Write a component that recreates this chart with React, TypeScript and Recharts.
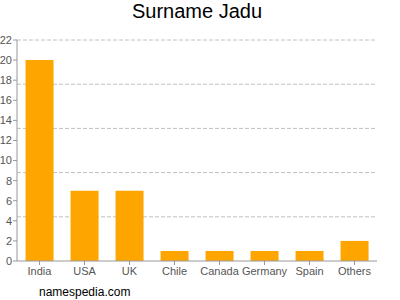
import React from 'react';
import { BarChart, Bar, XAxis, YAxis, CartesianGrid } from 'recharts';

const countries = ['India', 'USA', 'UK', 'Chile', 'Canada', 'Germany', 'Spain', 'Others'];
const counts = [20, 7, 7, 1, 1, 1, 1, 2];
const yTicks = [0, 2, 4, 6, 8, 10, 12, 14, 16, 18, 20, 22];
const yMax = 22;
const gridValues = [4.4, 8.8, 13.2, 17.6, 22];

const data = countries.map((name, i) => ({ name, value: counts[i] }));

const font = '"Liberation Sans", Arial, sans-serif';

// grid lines sit at fifths of the axis range, not at the tick values
const gridCoords = ({ yAxis, offset }: any) => {
    const s = yAxis && yAxis.scale;
    if (typeof s === 'function') return gridValues.map((v) => s(v));
    if (s && typeof s.map === 'function') return gridValues.map((v) => s.map(v));
    return gridValues.map((v) => offset.top + offset.height * (1 - v / yMax));
};

const App = () => {
    return (
        <div style={{ position: 'absolute', left: 0, top: 0, width: 400, height: 300, fontFamily: font }}>
            <div style={{ position: 'absolute', top: 0, left: 0, width: 394, textAlign: 'center', fontSize: 20, color: '#000' }}>
                Surname Jadu
            </div>
            <BarChart
                width={400}
                height={300}
                data={data}
                margin={{ top: 40, right: 23, left: 0, bottom: 9 }}
                barCategoryGap="19%"
            >
                <CartesianGrid
                    vertical={false}
                    stroke="#c0c0c0"
                    strokeDasharray="4 2"
                    horizontalCoordinatesGenerator={gridCoords}
                />
                <YAxis
                    domain={[0, yMax]}
                    ticks={yTicks}
                    interval={0}
                    width={17}
                    tickSize={4}
                    tickMargin={1}
                    stroke="#999"
                    tick={{ fill: '#555', fontSize: 11, fontFamily: font }}
                />
                <XAxis
                    dataKey="name"
                    height={30}
                    tickSize={4}
                    tickMargin={2}
                    interval={0}
                    stroke="#999"
                    tick={{ fill: '#555', fontSize: 11, fontFamily: font }}
                />
                <Bar dataKey="value" fill="#FFA500" isAnimationActive={false} />
            </BarChart>
            <div style={{ position: 'absolute', left: 39, top: 285, fontSize: 12, color: '#000' }}>
                namespedia.com
            </div>
        </div>
    );
};

export default App;
